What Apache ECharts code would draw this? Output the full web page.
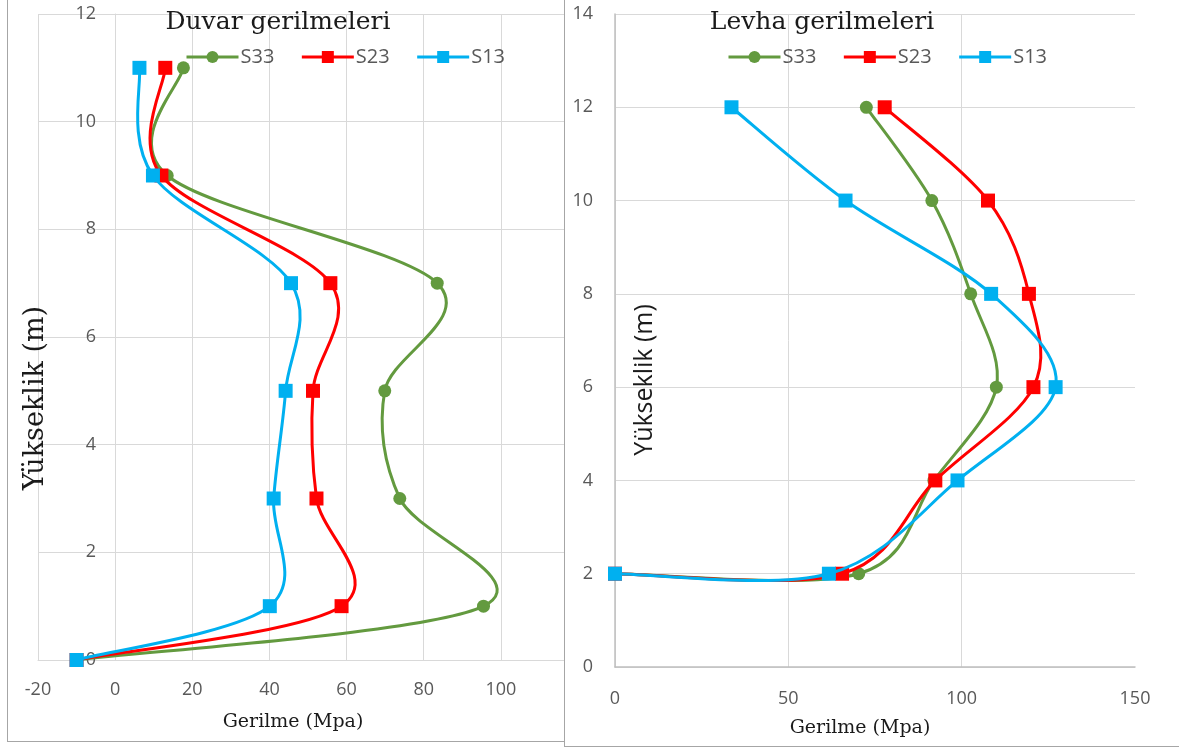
<!DOCTYPE html>
<html>
<head>
<meta charset="utf-8">
<script src="https://cdn.jsdelivr.net/npm/echarts@6/dist/echarts.min.js"></script>
<style>
  html, body { margin: 0; padding: 0; background: #fff; }
  body { width: 1179px; height: 751px; position: relative; overflow: hidden; }
  .frame { position: absolute; box-sizing: border-box; border: 1px solid #a6a6a6; background: #fff; }
  .chart { position: absolute; }
</style>
</head>
<body>
<div class="frame" style="left:7px; top:-1px; width:620px; height:743px;"></div>
<div id="wall" class="chart" style="left:0; top:0; width:640px; height:742px;"></div>
<div class="frame" style="left:564px; top:-1px; width:630px; height:748px;"></div>
<div id="slab" class="chart" style="left:565px; top:0; width:614px; height:746px; background:#fff;"></div>
<script>
// Wall stresses (Duvar gerilmeleri), heights in m, stresses in MPa
const wallHeights = [0, 1, 3, 5, 7, 9, 11];
const wallS33 = [-10, 95.5, 73.8, 69.9, 83.5, 13.5, 17.7];
const wallS23 = [-10, 58.7, 52.2, 51.3, 55.8, 12, 13];
const wallS13 = [-10, 40.1, 41.1, 44.2, 45.6, 9.8, 6.3];

// Slab stresses (Levha gerilmeleri)
const slabHeights = [2, 2, 4, 6, 8, 10, 12];
const slabS33 = [0, 70.3, 92, 110, 102.6, 91.4, 72.5];
const slabS23 = [0, 65.5, 92.4, 120.7, 119.4, 107.6, 77.8];
const slabS13 = [0, 61.7, 98.8, 127.1, 108.5, 66.5, 33.6];

const seriesNames = ['S33', 'S23', 'S13'];
const seriesColors = ['#639a3f', '#ff0000', '#00b0f0'];
const seriesSymbols = ['circle', 'rect', 'rect'];

const SANS = '"Open Sans", "Noto Sans", sans-serif';
const SERIF = '"DejaVu Serif", serif';
const GRID_COLOR = '#d9d9d9';
const LABEL_COLOR = '#595959';

function pairs(xs, ys) {
  return xs.map((x, i) => [x, ys[i]]);
}

// Smoothed curve through the points (cubic Bezier, tangents = (next - prev) / 6),
// drawn once per series from the pixel positions given by the axes.
function curveSeries(pts, color, z) {
  return {
    type: 'custom',
    data: pts,
    encode: { x: 0, y: 1 },
    clip: false,
    silent: true,
    z: z,
    animation: false,
    renderItem: function (params, api) {
      if (params.dataIndex !== 0) return null;
      const p = pts.map(d => api.coord(d));
      let path = 'M' + p[0][0] + ' ' + p[0][1];
      for (let i = 0; i < p.length - 1; i++) {
        const a = p[i - 1] || p[i];
        const b = p[i];
        const c = p[i + 1];
        const d = p[i + 2] || p[i + 1];
        const c1x = b[0] + (c[0] - a[0]) / 6, c1y = b[1] + (c[1] - a[1]) / 6;
        const c2x = c[0] - (d[0] - b[0]) / 6, c2y = c[1] - (d[1] - b[1]) / 6;
        path += ' C' + c1x + ' ' + c1y + ' ' + c2x + ' ' + c2y + ' ' + c[0] + ' ' + c[1];
      }
      return {
        type: 'path',
        shape: { pathData: path },
        style: { fill: 'none', stroke: color, lineWidth: 3, lineJoin: 'round', lineCap: 'round' }
      };
    }
  };
}

function makeSeries(valueSets, heights) {
  const out = [];
  valueSets.forEach((vals, i) => {
    const pts = pairs(vals, heights);
    out.push(curveSeries(pts, seriesColors[i], 2 + i * 2));
    out.push({
      name: seriesNames[i],
      type: 'line',
      data: pts,
      z: 3 + i * 2,
      symbol: seriesSymbols[i],
      symbolSize: seriesSymbols[i] === 'circle' ? 13 : 14,
      showSymbol: true,
      clip: false,
      lineStyle: { color: seriesColors[i], width: 3, opacity: 0 },
      itemStyle: { color: seriesColors[i], borderWidth: 0 },
      emphasis: { disabled: true },
      animation: false
    });
  });
  return out;
}

function legend(left) {
  return {
    left: left, top: 42,
    itemWidth: 52, itemHeight: 15, itemGap: 26,
    lineStyle: { width: 3, opacity: 1 },
    textStyle: { fontFamily: SANS, fontSize: 20, color: LABEL_COLOR, padding: [0, 0, 0, -3] },
    data: seriesNames
  };
}

function textEl(x, y, text, font, size, rotate) {
  return {
    type: 'text', x: x, y: y, rotation: rotate ? Math.PI / 2 : 0,
    style: {
      text: text, fill: '#1a1a1a', font: size + 'px ' + font,
      textAlign: 'center', textVerticalAlign: 'middle'
    },
    z: 10
  };
}

// Left panel: wall. The value labels of the height axis sit beside the x = 0 line.
const wallGridLeft = 38;
const wallGridWidth = 540;
const wallXMin = -20, wallXMax = 120;
const zeroOffset = wallGridWidth * (0 - wallXMin) / (wallXMax - wallXMin);

const wall = echarts.init(document.getElementById('wall'), null, { renderer: 'canvas' });
wall.setOption({
  backgroundColor: 'transparent',
  animation: false,
  grid: { left: wallGridLeft, top: 14, width: wallGridWidth, height: 646, containLabel: false },
  legend: legend(180),
  xAxis: {
    type: 'value', min: wallXMin, max: wallXMax, interval: 20,
    axisLine: { show: true, onZero: false, lineStyle: { color: GRID_COLOR, width: 1 } },
    axisTick: { show: false },
    axisLabel: { color: LABEL_COLOR, fontFamily: SANS, fontSize: 18, margin: 21 },
    splitLine: { show: true, lineStyle: { color: GRID_COLOR, width: 1 } }
  },
  yAxis: {
    type: 'value', min: 0, max: 12, interval: 2,
    axisLine: { show: true, lineStyle: { color: GRID_COLOR, width: 1 } },
    axisTick: { show: false },
    axisLabel: { color: LABEL_COLOR, fontFamily: SANS, fontSize: 18, margin: 19 - zeroOffset },
    splitLine: { show: true, lineStyle: { color: GRID_COLOR, width: 1 } }
  },
  graphic: [
    textEl(278, 22, 'Duvar gerilmeleri', SERIF, 25, false),
    textEl(293, 722, 'Gerilme (Mpa)', SERIF, 19, false),
    textEl(36, 398, 'Yükseklik (m)', SERIF, 27, true)
  ],
  series: makeSeries([wallS33, wallS23, wallS13], wallHeights)
});

// Right panel: slab
const slab = echarts.init(document.getElementById('slab'), null, { renderer: 'canvas' });
slab.setOption({
  backgroundColor: '#fff',
  animation: false,
  grid: { left: 50, top: 14, width: 520, height: 653, containLabel: false },
  legend: legend(157),
  xAxis: {
    type: 'value', min: 0, max: 150, interval: 50,
    axisLine: { show: true, onZero: false, lineStyle: { color: '#bfbfbf', width: 1.5 } },
    axisTick: { show: false },
    axisLabel: { color: LABEL_COLOR, fontFamily: SANS, fontSize: 18, margin: 23 },
    splitLine: { show: true, lineStyle: { color: [GRID_COLOR, GRID_COLOR, GRID_COLOR, 'transparent'], width: 1 } }
  },
  yAxis: {
    type: 'value', min: 0, max: 14, interval: 2,
    axisLine: { show: true, lineStyle: { color: '#bfbfbf', width: 1.5 } },
    axisTick: { show: false },
    axisLabel: { color: LABEL_COLOR, fontFamily: SANS, fontSize: 18, margin: 22 },
    splitLine: { show: true, lineStyle: { color: GRID_COLOR, width: 1 } }
  },
  graphic: [
    textEl(257, 22, 'Levha gerilmeleri', SERIF, 25, false),
    textEl(295, 728, 'Gerilme (Mpa)', SERIF, 19, false),
    {
      type: 'text', x: 80, y: 380, rotation: Math.PI / 2,
      style: { text: 'Yükseklik (m)', fill: '#1a1a1a', font: '25px ' + SANS, textAlign: 'center', textVerticalAlign: 'middle' },
      z: 10
    }
  ],
  series: makeSeries([slabS33, slabS23, slabS13], slabHeights)
});
</script>
</body>
</html>
